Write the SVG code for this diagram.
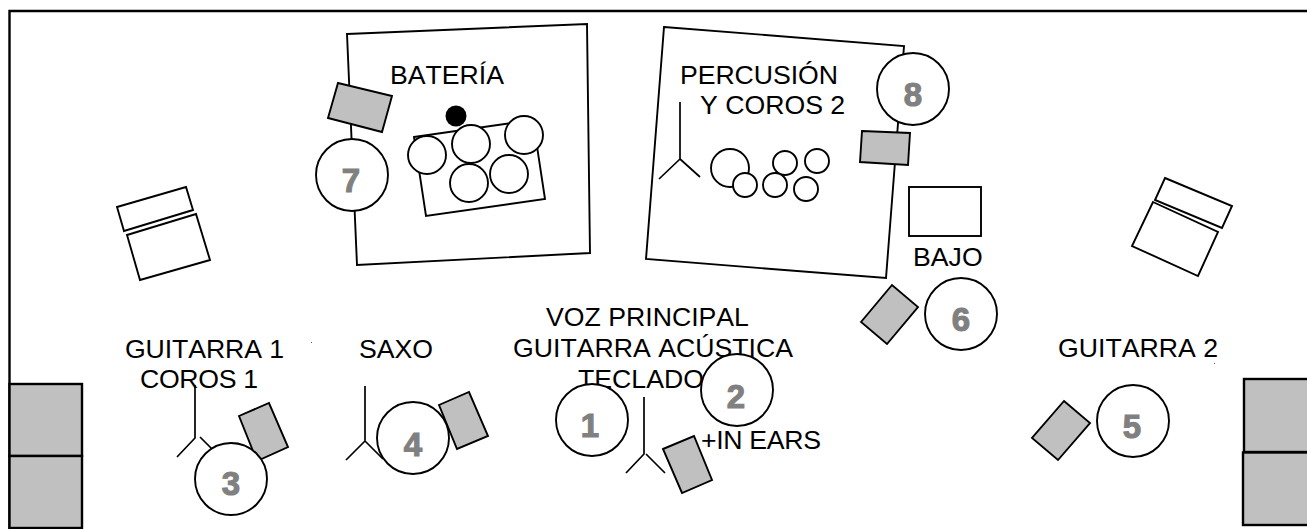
<svg xmlns="http://www.w3.org/2000/svg" width="1307" height="529" viewBox="0 0 1307 529">
<style>
.s{fill:#fff;stroke:#000;stroke-width:1.9;stroke-linejoin:miter}
.g{fill:#c0c0c0;stroke:#000;stroke-width:1.9}
.b{fill:#c0c0c0;stroke:#000;stroke-width:2.4}
.y{fill:none;stroke:#000;stroke-width:1.7}
.t{font-family:"Liberation Sans",Arial,sans-serif;font-size:26.67px;font-kerning:none;fill:#000}
.n{font-family:"Liberation Sans",Arial,sans-serif;font-size:33px;font-weight:bold;fill:#808080;stroke:#808080;stroke-width:1.1;text-anchor:middle}
</style>
<rect width="1307" height="529" fill="#fff"/>
<path d="M9.500 529V11H1307" fill="none" stroke="#000" stroke-width="2.400"/>
<g id="boxes-left"><rect class="b" x="9.500" y="384" width="72.500" height="72"/><rect class="b" x="9.500" y="456" width="72.500" height="72"/></g>
<g id="boxes-right"><rect class="b" x="1244" y="379" width="70" height="73"/><rect class="b" x="1243" y="452.500" width="70" height="72.500"/></g>
<g id="amp-left"><polygon class="s" points="117,207 186,187 193,210 124,231"/><polygon class="s" points="127,235 196,214 210,260 140,280"/></g>
<g id="amp-right"><polygon class="s" points="1165,178 1232,206 1222,228 1155,200"/><polygon class="s" points="1153,202 1218,232 1198,276 1132,246"/></g>
<g id="drum-riser">
<polygon class="s" points="347,34 587,24 590,253 357,265"/>
<polygon class="s" points="414,137 533,120 545,199 426,216"/>
<circle cx="456" cy="116" r="10.500" fill="#000"/>
<circle class="s" cx="427" cy="155" r="19"/><circle class="s" cx="524" cy="135" r="19"/><circle class="s" cx="471" cy="144" r="19"/><circle class="s" cx="469" cy="183" r="19"/><circle class="s" cx="509" cy="174" r="19"/>
<text class="t" x="390" y="84">BATERÍA</text>
</g>
<g id="perc-riser">
<polygon class="s" points="664,27 904,46 886,278 646,259"/>
<text class="t" x="680" y="84" textLength="158">PERCUSIÓN</text>
<text class="t" x="700" y="114">Y COROS 2</text>
<path class="y" d="M680 102V159L659 179M680 159L700 177"/>
<circle class="s" cx="730" cy="168" r="19"/><circle class="s" cx="745" cy="185" r="12"/><circle class="s" cx="785" cy="163" r="12"/><circle class="s" cx="817" cy="161" r="12"/><circle class="s" cx="775" cy="185" r="12"/><circle class="s" cx="806" cy="189" r="12"/>
</g>
<g id="texts">
<text class="t" x="125" y="358" textLength="159">GUITARRA 1</text>
<text class="t" x="140" y="388" textLength="118">COROS 1</text>
<text class="t" x="359" y="358">SAXO</text>
<text class="t" x="546" y="326">VOZ PRINCIPAL</text>
<text class="t" x="513" y="357">GUITARRA ACÚSTICA</text>
<text class="t" x="578" y="388">TECLADO</text>
<text class="t" x="701" y="449" textLength="120">+IN EARS</text>
<text class="t" x="913" y="266">BAJO</text>
<text class="t" x="1058" y="357">GUITARRA 2</text>
<rect x="311" y="342" width="1" height="1" fill="#555"/>
<rect x="1214" y="363" width="1" height="1" fill="#555"/>
</g>
<g id="connectors">
<path class="y" d="M195 385V438L177 457M200 437L212 449"/>
<path class="y" d="M365 386V441L346 460M365 441L383 459"/>
<path class="y" d="M644 397V454L626 473M646 454L665 473"/>
</g>
<g id="musician-7"><polygon class="g" points="338,83 392,96 382,132 328,118"/><circle class="s" cx="352" cy="175" r="36"/><text class="n" x="351" y="192">7</text></g>
<g id="musician-8"><circle class="s" cx="913" cy="89" r="36"/><polygon class="g" points="862,131 910,133 908,165 860,162"/><text class="n" x="913" y="106">8</text></g>
<rect x="909" y="187" width="72" height="49" class="s" id="bass-amp"/>
<g id="musician-6"><polygon class="g" points="861,322 892,285 918,307 887,344"/><circle class="s" cx="961" cy="314" r="36"/><text class="n" x="961" y="331">6</text></g>
<g id="musician-5"><polygon class="g" points="1064,401 1090,423 1058,460 1032,438"/><circle class="s" cx="1133" cy="421" r="36"/><text class="n" x="1132" y="438">5</text></g>
<g id="musician-4"><polygon class="g" points="439,405 469,392 488,436 457,449"/><circle class="s" cx="413" cy="438" r="36"/><text class="n" x="413" y="456">4</text></g>
<g id="musician-3"><polygon class="g" points="239,416 269,403 288,447 257,461"/><circle class="s" cx="231" cy="479" r="36"/><text class="n" x="231" y="495">3</text></g>
<g id="musician-1"><polygon class="g" points="663,449 694,436 712,480 682,493"/><circle class="s" cx="592" cy="420" r="36"/><text class="n" x="590" y="437">1</text></g>
<g id="musician-2"><circle class="s" cx="737" cy="390" r="36"/><text class="n" x="736" y="408">2</text></g>
</svg>
